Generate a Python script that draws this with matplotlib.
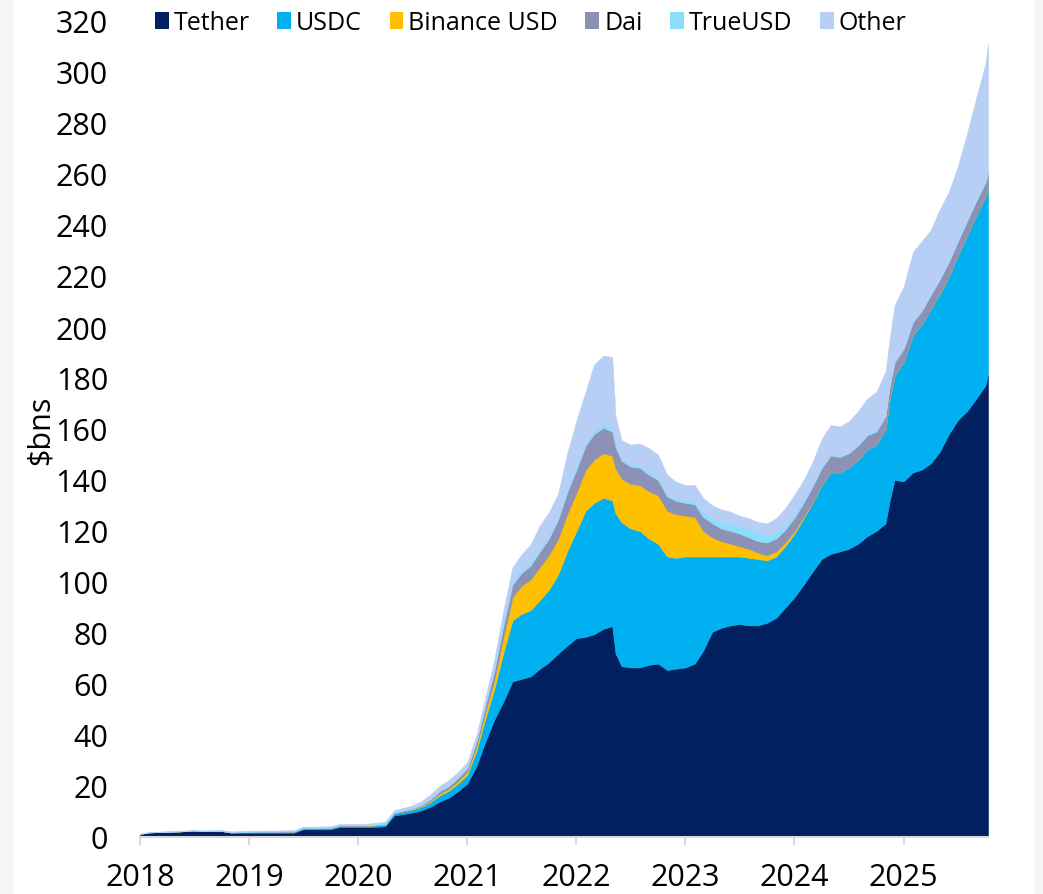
import numpy as np
import pandas as pd
import matplotlib
matplotlib.use("Agg")
import matplotlib.pyplot as plt
import matplotlib.dates as mdates
from matplotlib.patches import Patch, Rectangle

plt.rcParams['font.family'] = ['Open Sans', 'DejaVu Sans']

# month starts 2018-01 .. 2025-10, plus a few extra points around sharp moves
months = [f"{y}-{m:02d}-01" for y in range(2018, 2026) for m in range(1, 13)
          if (y, m) <= (2025, 10)]
dates = pd.to_datetime(months + ["2022-05-12", "2024-11-15", "2025-10-10"]).sort_values()

labels = ["Tether", "USDC", "Binance USD", "Dai", "TrueUSD", "Other"]
colors = ["#012060", "#00b0f0", "#ffc000", "#8c91b5", "#8ddcfc", "#b8cff5"]

# $bns
tether = [1.2, 1.8, 1.9, 2.0, 2.1, 2.3, 2.5, 2.3, 2.3, 2.3, 1.7, 1.7,
          1.7, 1.7, 1.7, 1.7, 1.7, 1.7, 3.0, 3.0, 3.0, 3.0, 3.9, 3.9,
          3.9, 3.9, 4.0, 4.2, 8.5, 9.0, 9.6, 10.5, 12.0, 14.0, 15.5, 18.0,
          21, 28, 37, 46, 53, 61, 62, 63, 66, 68.5, 72, 75,
          78, 78.5, 79.5, 81.6, 82.7, 72, 67, 66.5, 66.5, 67.5, 68, 65.5, 66,
          66.5, 68, 73, 80.5, 82, 83, 83.5, 83, 83, 84, 86, 90,
          94, 99, 104, 109, 111, 112, 113, 115, 118, 120, 123, 132, 140,
          139.5, 143, 144, 146.5, 151, 158, 163.5, 167, 172, 177, 181]
usdc = [0, 0, 0, 0, 0, 0, 0, 0, 0, 0.05, 0.1, 0.2,
        0.25, 0.3, 0.3, 0.3, 0.35, 0.4, 0.45, 0.45, 0.5, 0.5, 0.5, 0.5,
        0.5, 0.5, 0.6, 0.7, 0.8, 1.0, 1.1, 1.3, 1.8, 2.4, 2.7, 3.0,
        3.5, 6, 9, 12, 19, 24, 25.5, 26, 27, 28.5, 31, 37,
        42, 49.5, 51.5, 51.4, 49.3, 55, 56.5, 54.5, 53.5, 49.5, 47, 44.5, 43.5,
        43.5, 42, 37, 29.5, 28, 27, 26.5, 26.5, 26, 24.5, 24, 24,
        25, 26, 27, 29, 32, 31, 32, 33, 34, 34, 37, 40, 41,
        47, 54, 57, 60.5, 62, 62, 64.5, 69, 72, 74, 74]
busd = [0] * 12 + \
       [0, 0, 0, 0, 0, 0, 0, 0, 0.02, 0.02, 0.02, 0.02] + \
       [0.02, 0.03, 0.05, 0.1, 0.15, 0.15, 0.2, 0.3, 0.5, 0.7, 0.8, 1.0,
        1.2, 1.8, 2.5, 3.5, 6, 9, 11, 12, 13, 13.5, 14, 14.5,
        15, 16, 17, 17.5, 17.5, 17.5, 17, 17.5, 18, 18.5, 19, 18, 17,
        16, 15.5, 10, 7.5, 6, 5, 4, 3.5, 2.5, 2, 2, 1.5,
        1.0, 0.6, 0.3, 0.1, 0.05, 0, 0, 0, 0, 0, 0, 0, 0] + [0] * 11
dai = [0.05] * 12 + [0.08] * 12 + \
      [0.1, 0.1, 0.1, 0.1, 0.1, 0.15, 0.2, 0.4, 0.6, 0.9, 1.0, 1.2,
       1.3, 1.8, 2.5, 3.5, 4.5, 5, 5, 5.5, 6, 6.5, 7.5, 8.5,
       9, 9.5, 10, 10, 9.5, 8.5, 7, 6.8, 6.8, 6.5, 6, 5.5, 5.3,
       5, 5, 5.5, 5.5, 5, 5, 5, 4.5, 4.5, 5, 5, 5,
       5.2, 5.5, 6, 6.5, 6.5, 6, 5.5, 5.5, 5.5, 5, 5, 5, 5,
       5, 5, 5, 5.5, 5.5, 5.5, 5.5, 5.5, 5.5, 5.5, 5.5]
tusd = [0.0, 0.05, 0.1, 0.1, 0.1, 0.1, 0.1, 0.15, 0.15, 0.15, 0.15, 0.15] + [0.2] * 12 + \
       [0.2, 0.2, 0.2, 0.2, 0.2, 0.25, 0.3, 0.3, 0.35, 0.4, 0.4, 0.4,
        0.4, 0.5, 0.6, 0.8, 1.0, 1.3, 1.3, 1.3, 1.3, 1.3, 1.3, 1.3,
        1.3, 1.3, 1.3, 1.3, 1.2, 1.1, 1.1, 1.1, 1.0, 1.0, 1.0, 1.0, 1.0,
        1.0, 1.5, 2.0, 2.0, 2.5, 3.0, 3.0, 3.5, 3.5, 3.0, 2.5, 2.0,
        1.5, 1.0, 0.6, 0.5, 0.5, 0.5, 0.5, 0.5, 0.5, 0.5, 0.5, 0.5, 0.5] + [0.5] * 11
other = [0, 0, 0, 0, 0, 0, 0, 0, 0.1, 0.15, 0.2, 0.2,
         0.2, 0.2, 0.25, 0.25, 0.3, 0.3, 0.3, 0.35, 0.35, 0.4, 0.4, 0.45,
         0.5, 0.5, 0.6, 0.7, 0.8, 0.9, 1.0, 1.3, 1.6, 1.8, 2.0, 2.0,
         2.0, 2.2, 2.5, 3.5, 5, 5.5, 6, 7, 9, 9, 9, 14,
         18, 20, 26, 27, 28, 11, 7, 7.5, 8.5, 9.5, 9, 7.5, 6.5,
         6, 6, 5.5, 5, 5, 4.5, 4, 4, 4, 4.5, 5.5, 6.5,
         7.5, 8, 9, 11, 11.5, 11.5, 12, 13, 14, 15, 17, 18, 22,
         24, 27, 27, 25, 27, 27, 29, 34, 40, 46, 50]

fig = plt.figure(figsize=(10.43, 8.95), dpi=100)
fig.patches.append(Rectangle((0, 0), 13 / 1043, 1, transform=fig.transFigure,
                             color="#f5f5f5", zorder=-5))
fig.patches.append(Rectangle((1035 / 1043, 0), 8 / 1043, 1, transform=fig.transFigure,
                             color="#f5f5f5", zorder=-5))

ax = fig.add_axes([140 / 1043, 57 / 895, 848 / 1043, 816 / 895])
polys = ax.stackplot(dates, tether, usdc, busd, dai, tusd, other, colors=colors)
for p, c in zip(polys, colors):
    p.set_edgecolor(c)
    p.set_linewidth(0.4)

ax.set_xlim(dates[0], dates[-1])
ax.set_ylim(0, 320)
ax.set_yticks(range(0, 321, 20))
ax.xaxis.set_major_locator(mdates.YearLocator())
ax.xaxis.set_major_formatter(mdates.DateFormatter("%Y"))

for s in ["top", "right", "left"]:
    ax.spines[s].set_visible(False)
ax.spines["bottom"].set_color("#d9d9d9")
ax.spines["bottom"].set_linewidth(1.5)
ax.tick_params(axis="y", length=0, pad=23, labelsize=22)
ax.tick_params(axis="x", length=6, width=1.5, color="#d9d9d9", pad=12, labelsize=22)

ax.set_ylabel("$bns", fontsize=22)
ax.yaxis.set_label_coords(-0.100, 0.5)

handles = [Patch(facecolor=c, edgecolor="none") for c in colors]
fig.legend(handles, labels, ncol=6, loc="center left",
           bbox_to_anchor=(155 / 1043, 1 - 24 / 895), frameon=False, fontsize=18,
           handlelength=0.55, handleheight=0.65, handletextpad=0.2,
           columnspacing=1.1, borderpad=0, borderaxespad=0)

fig.savefig("out.png", dpi=100)
